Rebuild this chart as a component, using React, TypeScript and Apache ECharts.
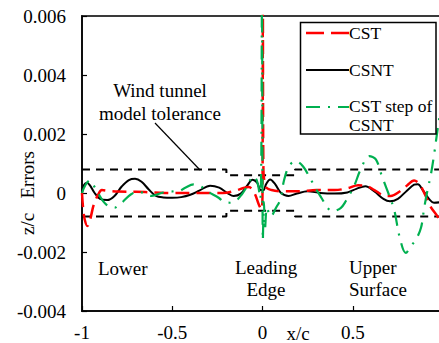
import React, { useEffect, useRef } from "react";
import * as echarts from "echarts";

const xTickLabels = ["-1", "-0.5", "0", "0.5"];
const seriesNames = ["CST", "CSNT", "CST step of CSNT", "Tolerance", "Tolerance lower"];
const yAxisTitle = "z/c   Errors";
const xAxisTitle = "x/c";

const cstData: [number, number][] = [
  [-1, 0.0], [-0.994, -0.0005], [-0.985, -0.0009], [-0.97, -0.00112], [-0.955, -0.0009],
  [-0.935, -0.0004], [-0.91, -0.00005], [-0.89, 0.0001], [-0.85, 0.00007], [-0.8, 0.00005],
  [-0.7, 0.00004], [-0.6, 0.00002], [-0.5, 0.0], [-0.4, 0.0], [-0.3, 0.0], [-0.22, 0.0],
  [-0.15, 0.00008], [-0.1, 0.00018], [-0.075, 0.0002], [-0.045, 0.0], [-0.02, -0.0004],
  [-0.006, -0.00056], [0.0, 0.0], [0.002, 0.0063], [0.005, 0.0008], [0.02, 0.0002],
  [0.05, 0.0001], [0.1, 0.00006], [0.2, 0.00006], [0.3, 0.0001], [0.4, 0.0001],
  [0.47, 0.00016], [0.53, 0.00026], [0.57, 0.00025], [0.62, 0.0001], [0.67, -0.00008],
  [0.71, -0.0001], [0.76, 0.00005], [0.8, 0.00025], [0.84, 0.00042], [0.87, 0.0003],
  [0.9, -0.00005], [0.93, -0.00045], [0.97, -0.0008], [1, -0.0011],
];

const csntData: [number, number][] = [
  [-1, 0], [-0.988, 0.00028], [-0.972, 0.00035], [-0.955, 0.00025], [-0.93, 0.0],
  [-0.9, -0.0002], [-0.86, -0.00024], [-0.82, -0.0001], [-0.78, 0.00022], [-0.74, 0.00044],
  [-0.706, 0.00048], [-0.67, 0.00038], [-0.63, 0.00012], [-0.59, -0.0001], [-0.55, -0.00015],
  [-0.5, -0.00016], [-0.45, -0.00014], [-0.4, -0.00006], [-0.35, 0.00008], [-0.29, 0.00025],
  [-0.24, 0.00018], [-0.19, -0.00002], [-0.16, -0.0001], [-0.12, -0.00002], [-0.085, 0.00025],
  [-0.055, 0.00045], [-0.03, 0.00035], [-0.01, 0.0001], [0.005, 0.0001], [0.02, 0.0003],
  [0.042, 0.00046], [0.07, 0.0003], [0.1, 0.00002], [0.144, -0.0001], [0.19, -0.00002],
  [0.25, 0.00006], [0.32, 0.0], [0.4, -0.00002], [0.47, 0.00002], [0.52, 0.00014],
  [0.57, 0.00023], [0.62, 0.00005], [0.67, -0.0002], [0.706, -0.00028], [0.75, -0.0002],
  [0.8, 0.00008], [0.84, 0.00028], [0.86, 0.0003], [0.89, 0.00008], [0.925, -0.00022],
  [0.95, -0.00033], [1, -0.0003],
];

const stepData: [number, number][] = [
  [-1, 0.0], [-0.98, 0.00028], [-0.956, 0.00043], [-0.935, 0.00025], [-0.911, 0.0],
  [-0.88, -0.0003], [-0.85, -0.00046], [-0.82, -0.0005], [-0.795, -0.0004], [-0.771, -0.00028],
  [-0.73, -0.00005], [-0.687, 0.00006], [-0.65, -0.00004], [-0.613, -0.0001], [-0.56, 0.0],
  [-0.511, 0.00006], [-0.474, 0.00004], [-0.428, 0.00018], [-0.382, 0.00029], [-0.34, 0.00022],
  [-0.307, 0.00006], [-0.243, -0.00016], [-0.215, -0.0003], [-0.18, -0.00033], [-0.15, -0.00028],
  [-0.115, -0.00005], [-0.085, 0.00023], [-0.05, 0.00057], [-0.03, 0.0004], [-0.012, -0.0002],
  [-0.003, 0.0063], [0.002, -0.0016], [0.008, -0.0003], [0.014, -0.0012], [0.025, -0.0005],
  [0.045, -0.0008], [0.075, -0.0005], [0.1, -0.0002], [0.118, 0.0004], [0.146, 0.0009],
  [0.183, 0.00108], [0.225, 0.0009], [0.267, 0.00046], [0.304, 0.00006], [0.332, -0.00022],
  [0.36, -0.0005], [0.387, -0.00062], [0.433, -0.00051], [0.461, -0.00028], [0.507, 0.00023],
  [0.544, 0.0008], [0.591, 0.00125], [0.628, 0.00114], [0.66, 0.0006], [0.693, 0.00006],
  [0.729, -0.00056], [0.76, -0.0015], [0.794, -0.00203], [0.822, -0.0018], [0.85, -0.00158],
  [0.878, -0.00118], [0.896, -0.0005], [0.915, 0.00012], [0.933, 0.00063], [0.952, 0.00136],
  [0.976, 0.0024], [1, 0.0032],
];

const tolUpper: [number, number][] = [
  [-1, 0.0008], [-0.2, 0.0008], [-0.2, 0.0006], [0.18, 0.0006], [0.18, 0.0008], [1, 0.0008],
];
const tolLower: [number, number][] = [
  [-1, -0.0008], [-0.2, -0.0008], [-0.2, -0.0006], [0.18, -0.0006], [0.18, -0.0008], [1, -0.0008],
];

const FONT = "Liberation Serif";

export default function App() {
  const ref = useRef<HTMLDivElement>(null);
  useEffect(() => {
    const chart = echarts.init(ref.current!, null, { renderer: "svg" });
    const txt = (text: string, x: number, y: number, align = "left", size = 19, z = 100) => ({
      type: "text",
      z,
      x,
      y,
      style: { text, fill: "#000", fontSize: size, fontFamily: FONT, align, verticalAlign: "middle" },
    });
    chart.setOption({
      animation: false,
      backgroundColor: "#fff",
      grid: {
        left: 82, top: 16, width: 361, height: 295, show: true,
        borderColor: "#3a3a3a", borderWidth: 2, containLabel: false, outerBoundsMode: "none",
      },
      xAxis: {
        type: "value",
        min: -1,
        max: 1,
        interval: 0.5,
        splitLine: { show: false },
        axisLine: { show: true, onZero: false, lineStyle: { color: "#000", width: 1.5 } },
        axisTick: { show: true, inside: true, length: 5, lineStyle: { color: "#000", width: 1.2 } },
        axisLabel: {
          color: "#000",
          fontSize: 19,
          fontFamily: FONT,
          margin: 12,
          formatter: (v: number) => {
            const i = Math.round((v + 1) / 0.5);
            return i >= 0 && i < xTickLabels.length ? xTickLabels[i] : "";
          },
        },
      },
      yAxis: {
        type: "value",
        min: -0.004,
        max: 0.006,
        interval: 0.002,
        splitLine: { show: false },
        axisLine: { show: true, onZero: false, lineStyle: { color: "#000", width: 1.5 } },
        axisTick: { show: true, inside: true, length: 5, lineStyle: { color: "#000", width: 1.2 } },
        axisLabel: { color: "#000", fontSize: 19, fontFamily: FONT, margin: 16 },
      },
      series: [
        {
          name: seriesNames[3], type: "line", data: tolUpper, symbol: "none", smooth: false,
          lineStyle: { color: "#000", width: 2, type: [8, 6] }, z: 2,
        },
        {
          name: seriesNames[4], type: "line", data: tolLower, symbol: "none", smooth: false,
          lineStyle: { color: "#000", width: 2, type: [8, 6] }, z: 2,
        },
        {
          name: seriesNames[1], type: "line", data: csntData, symbol: "none", smooth: 0.35,
          lineStyle: { color: "#000", width: 2 }, z: 3,
        },
        {
          name: seriesNames[0], type: "line", data: cstData, symbol: "none", smooth: 0.35,
          lineStyle: { color: "#ff0000", width: 2.5, type: [14, 7] }, z: 4,
        },
        {
          name: seriesNames[2], type: "line", data: stepData, symbol: "none", smooth: 0.35,
          lineStyle: { color: "#00b050", width: 2.2, type: [14, 8, 2, 8] }, z: 5,
        },
      ],
      graphic: [
        {
          type: "text", z: 100, x: 27, y: 193, rotation: Math.PI / 2,
          style: { text: yAxisTitle, fill: "#000", fontSize: 19, fontFamily: FONT, align: "center", verticalAlign: "middle" },
        },
        txt(xAxisTitle, 298, 333, "center"),
        txt("Wind tunnel", 160, 90, "center"),
        txt("model tolerance", 160, 113, "center"),
        { type: "line", z: 100, shape: { x1: 155, y1: 123, x2: 200, y2: 170 }, style: { stroke: "#000", lineWidth: 1.2 } },
        txt("Lower", 98, 268),
        txt("Leading", 266, 267, "center"),
        txt("Edge", 266, 289, "center"),
        txt("Upper", 349, 267),
        txt("Surface", 349, 289),
        {
          type: "rect", z: 100, shape: { x: 300.5, y: 22.5, width: 135.5, height: 111.5 },
          style: { fill: "#fff", stroke: "#000", lineWidth: 1.5 },
        },
        { type: "line", z: 101, shape: { x1: 306, y1: 33, x2: 349, y2: 33 }, style: { stroke: "#ff0000", lineWidth: 2.5, lineDash: [18, 7] } },
        { type: "line", z: 101, shape: { x1: 306, y1: 70, x2: 349, y2: 70 }, style: { stroke: "#000", lineWidth: 2 } },
        { type: "line", z: 101, shape: { x1: 306, y1: 107, x2: 349, y2: 107 }, style: { stroke: "#00b050", lineWidth: 2.2, lineDash: [14, 8, 2, 8] } },
        txt(seriesNames[0], 349, 33, "left", 17.5, 101),
        txt(seriesNames[1], 349, 70, "left", 17.5, 101),
        txt("CST step of", 349, 106, "left", 17.5, 101),
        txt("CSNT", 349, 125, "left", 17.5, 101),
      ],
    });
    return () => chart.dispose();
  }, []);
  return (
    <div
      ref={ref}
      style={{ position: "absolute", left: 0, top: 0, width: 439, height: 343, background: "#fff" }}
    />
  );
}
